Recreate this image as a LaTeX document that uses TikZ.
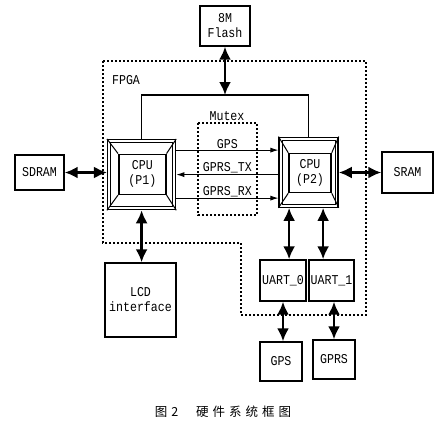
\documentclass[tikz,border=0pt]{standalone}
\usepackage{fontspec}
\setmonofont{Liberation Mono}[FakeStretch=0.86]
\newfontfamily\cjk{Noto Sans CJK SC}
\usetikzlibrary{arrows.meta,calc}
\tikzset{
  txt/.style={font=\ttfamily\fontsize{13.5}{15}\selectfont},
  box/.style={draw, line width=1.4pt, inner sep=0pt, align=center, txt},
  cpuouter/.style={draw, line width=1.3pt, inner sep=0pt},
  cpuinner/.style={draw, line width=1.5pt, fill=white, inner sep=0pt, align=center, txt},
  bigarrow/.style={line width=2.4pt, {Latex[length=13pt,width=12pt]}-{Latex[length=13pt,width=12pt]}},
  sig/.style={line width=0.9pt, -{Latex[length=8pt,width=5pt]}},
  bus/.style={line width=1.1pt},
  dotline/.style={line width=1.1pt, dash pattern=on 2pt off 2pt},
  lbl/.style={txt, inner sep=1pt},
}
\begin{document}
\begin{tikzpicture}[x=1pt,y=-1pt]
\useasboundingbox (0,0) rectangle (443,424);
% FPGA outline
\draw[dotline] (103,61) -- (366,61) -- (366,315) -- (241,315) -- (241,243) -- (103,243) -- cycle;
\node[lbl] (fpga) at (126,80) {FPGA};
% Mutex
\draw[dotline] (198,123) rectangle (257,215);
\node[lbl] (mutex) at (227,116) {Mutex};
% boxes
\node[box, minimum width=50pt, minimum height=40pt] (flash) at (225,26) {8M\\Flash};
\node[box, minimum width=49pt, minimum height=35pt] (sdram) at (39.5,172.5) {SDRAM};
\node[box, minimum width=51pt, minimum height=41pt] (sram) at (407.5,172.5) {SRAM};
\node[box, minimum width=71pt, minimum height=74pt] (lcd) at (140.5,300) {LCD\\interface};
\node[box, minimum width=46pt, minimum height=41pt] (uart0) at (283,280.5) {UART\_0};
\node[box, minimum width=45pt, minimum height=41pt] (uart1) at (331.5,280.5) {UART\_1};
\node[box, minimum width=42pt, minimum height=39pt] (gps) at (281,361.5) {GPS};
\node[box, minimum width=42pt, minimum height=39pt] (gprs) at (334,359.5) {GPRS};
% CPU 1
\node[cpuouter, minimum width=68pt, minimum height=70pt] (cpu1) at (141.6,174.6) {};
\draw[line width=0.6pt] ($(cpu1.north west)+(3.5,3.5)$) rectangle ($(cpu1.south east)+(-3.5,-3.5)$);
\node[cpuinner, minimum width=47pt, minimum height=40pt] (cpu1i) at (142.3,174.3) {CPU\\(P1)};
\foreach \c in {north west,north east,south west,south east}
  \draw[line width=1pt] (cpu1.\c) -- (cpu1i.\c);
% CPU 2
\node[cpuouter, minimum width=59pt, minimum height=70pt] (cpu2) at (308.6,172.2) {};
\draw[line width=0.6pt] ($(cpu2.north west)+(3.5,3.5)$) rectangle ($(cpu2.south east)+(-3.5,-3.5)$);
\node[cpuinner, minimum width=42pt, minimum height=39pt] (cpu2i) at (310,173) {CPU\\(P2)};
\foreach \c in {north west,north east,south west,south east}
  \draw[line width=1pt] (cpu2.\c) -- (cpu2i.\c);
% bus
\coordinate (busc) at (228,95);
\draw[bus] (cpu1.north) |- (busc) -| (cpu2.north);
\draw[bigarrow] (flash.south) -- (flash.south |- busc);
% memory arrows
\draw[bigarrow] (sdram.east) -- (sdram.east -| cpu1.west);
\draw[bigarrow] (cpu2.east |- sram.west) -- (sram.west);
% signals
\draw[sig] ([yshift=24.5pt]cpu1.east) -- node[lbl, midway, above] {GPS} ([yshift=24.5pt]cpu1.east -| cpu2.west);
\draw[sig] (cpu2.west |- cpu1.east) -- node[lbl, midway, above] {GPRS\_TX} (cpu1.east);
\draw[sig] ([yshift=-23.5pt]cpu1.east) -- node[lbl, midway, above] {GPRS\_RX} ([yshift=-23.5pt]cpu1.east -| cpu2.west);
% lower arrows
\draw[bigarrow] (cpu1.south) -- (cpu1.south |- lcd.north);
\draw[bigarrow] ([xshift=-19.5pt]cpu2.south) -- ([xshift=-19.5pt]cpu2.south |- uart0.north);
\draw[bigarrow] ([xshift=14.5pt]cpu2.south) -- ([xshift=14.5pt]cpu2.south |- uart1.north);
\draw[bigarrow] (uart0.south) -- (uart0.south |- gps.north);
\draw[bigarrow] (gprs.north |- uart1.south) -- (gprs.north);
% caption
\node[font=\cjk\fontsize{12.5}{14}\selectfont, inner sep=0pt] (cap) at (223,412) {图\hspace{4pt}2\hspace{18pt}硬\hspace{4pt}件\hspace{4pt}系\hspace{4pt}统\hspace{4pt}框\hspace{4pt}图};
\end{tikzpicture}
\end{document}
